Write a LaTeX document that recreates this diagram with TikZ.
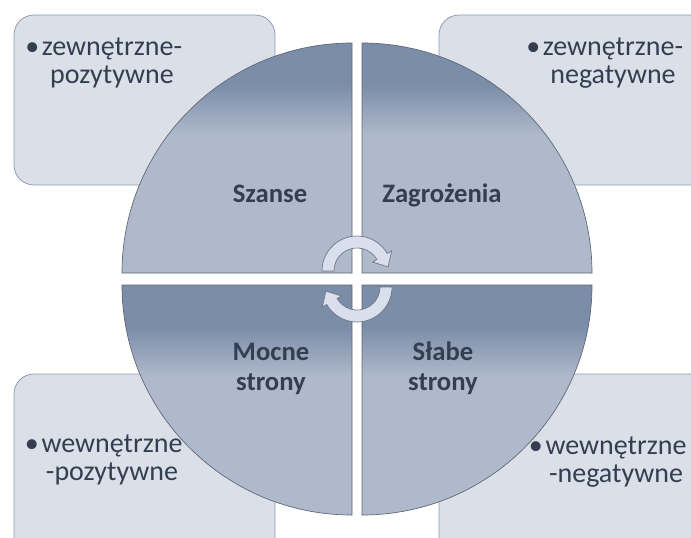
\documentclass[tikz,border=0pt]{standalone}
\usepackage{fontspec}
\setmainfont{Carlito}
\usepackage{tikz}

\definecolor{boxfill}{RGB}{219,223,232}
\definecolor{boxline}{RGB}{141,156,181}
\definecolor{qdark}{RGB}{123,141,168}
\definecolor{qlight}{RGB}{174,185,203}
\definecolor{qline}{RGB}{95,102,115}
\definecolor{txt}{RGB}{51,63,80}
\definecolor{arrfill}{RGB}{218,223,238}
\definecolor{arrline}{RGB}{110,116,128}

\pgfdeclareverticalshading{quadshade}{100bp}{color(0bp)=(qlight); color(55bp)=(qlight); color(66bp)=(qdark); color(100bp)=(qdark)}

\newcommand{\firstline}{\rule{0pt}{18pt}}

\tikzset{
  infobox/.style={fill=boxfill, draw=boxline, line width=0.6pt, rounded corners=15pt},
  quadrant/.style={shading=quadshade, draw=qline, line width=0.5pt},
  boxtext/.style={text=txt, font=\fontsize{21}{21}\selectfont, align=center, anchor=north, inner sep=0pt},
  quadlabel/.style={text=txt, font=\bfseries\fontsize{20}{22.5}\selectfont, align=center, inner sep=0pt},
  turnarrow/.style={fill=arrfill, draw=arrline, line width=0.5pt}
}

\begin{document}
\begin{tikzpicture}[x=0.75pt,y=0.75pt]
\clip (0,0) rectangle (691,537);

% Draw boxes
\draw[infobox] (14,352) rectangle (275,522);
\draw[infobox] (439,352) rectangle (710,522);
\draw[infobox] (14,-30) rectangle (275,163);
\draw[infobox] (439,-30) rectangle (710,163);

% Box texts
\node[boxtext] (zp) at (112,506) {\firstline\llap{•\hspace{2pt}}zewnętrzne-\\pozytywne};
\node[boxtext] (zn) at (613,506) {\firstline\llap{•\hspace{2pt}}zewnętrzne-\\negatywne};
\node[boxtext] (wp) at (112,109) {\firstline\llap{•\hspace{2pt}}wewnętrzne\\-pozytywne};
\node[boxtext] (wn) at (616,107) {\firstline\llap{•\hspace{2pt}}wewnętrzne\\-negatywne};

% Draw quadrants
\shade[quadrant] (352,264) -- (352,494) arc[start angle=90,end angle=180,radius=230] -- cycle;
\shade[quadrant] (362,264) -- (362,494) arc[start angle=90,end angle=0,radius=230] -- cycle;
\shade[quadrant] (352,252) -- (122,252) arc[start angle=180,end angle=270,radius=230] -- cycle;
\shade[quadrant] (362,252) -- (362,22) arc[start angle=270,end angle=360,radius=230] -- cycle;

% Quadrant labels
\node[quadlabel, anchor=base] (szanse) at (270,335) {Szanse};
\node[quadlabel, anchor=base] (zagrozenia) at (442,335) {Zagrożenia};
\node[quadlabel, anchor=north] (mocne) at (271,201) {\firstline Mocne\\strony};
\node[quadlabel, anchor=north] (slabe) at (443,201) {\firstline Słabe\\strony};

% Draw turning arrows
\begin{scope}[shift={(357,266)}]
\path[turnarrow] (180:35) arc[start angle=180,end angle=30,radius=35] -- (30:40) -- (31.1,4.1) -- (30:18) -- (30:23) arc[start angle=30,end angle=180,radius=23] -- cycle;
\end{scope}
\begin{scope}[shift={(357,250)},rotate=180]
\path[turnarrow] (180:35) arc[start angle=180,end angle=30,radius=35] -- (30:40) -- (31.1,4.1) -- (30:18) -- (30:23) arc[start angle=30,end angle=180,radius=23] -- cycle;
\end{scope}
\end{tikzpicture}
\end{document}
